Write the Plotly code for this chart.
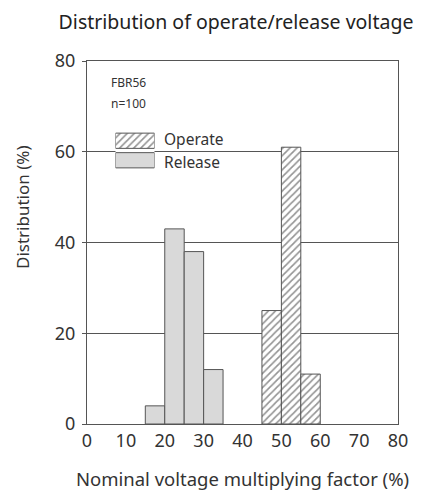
import plotly.graph_objects as go

# ---- data ----
release_bins = [15, 20, 25, 30]          # left edge of each 5% bin
release_pct = [4, 43, 38, 12]
operate_bins = [45, 50, 55]
operate_pct = [25, 61, 11]
bin_width = 5
x_ticks = [0, 10, 20, 30, 40, 50, 60, 70, 80]
y_ticks = [0, 20, 40, 60, 80]
legend_names = ["Operate", "Release"]

FONT = "Noto Sans"
LINE = "#555555"
TXT = "#333333"
REL_FILL = "#d9d9d9"
HATCH = dict(shape="/", fgcolor="#2a2a2a", bgcolor="white", size=5, solidity=0.33)

W, H = 422, 491
L, R, T, B = 87, 24, 61, 67
PW, PH = W - L - R, H - T - B

def px(xp):
    return (xp - L) / PW

def py(yp):
    return 1 - (yp - T) / PH

fig = go.Figure()

fig.add_trace(go.Bar(
    x=release_bins, y=release_pct, width=bin_width, offset=0,
    marker=dict(color=REL_FILL, line=dict(color=LINE, width=1)),
    name="Release", showlegend=False, xaxis="x", yaxis="y"))
fig.add_trace(go.Bar(
    x=operate_bins, y=operate_pct, width=bin_width, offset=0,
    marker=dict(color="white", line=dict(color=LINE, width=1), pattern=HATCH),
    name="Operate", showlegend=False, xaxis="x", yaxis="y"))

# legend swatches drawn as an inset (one bar per series name)
fig.add_trace(go.Bar(
    y=[legend_names[0]], x=[1], orientation="h", width=0.78,
    marker=dict(color="white", line=dict(color=LINE, width=1), pattern=HATCH),
    showlegend=False, xaxis="x2", yaxis="y2", hoverinfo="skip"))
fig.add_trace(go.Bar(
    y=[legend_names[1]], x=[1], orientation="h", width=0.78,
    marker=dict(color=REL_FILL, line=dict(color=LINE, width=1)),
    showlegend=False, xaxis="x2", yaxis="y2", hoverinfo="skip"))

fig.update_layout(
    width=W, height=H,
    margin=dict(l=L, r=R, t=T, b=B),
    paper_bgcolor="white", plot_bgcolor="white",
    barmode="overlay",
    font=dict(family=FONT, color=TXT),
    title=dict(text="Distribution of operate/release voltage",
               x=236 / W, xref="container", xanchor="center",
               y=1 - 22 / H, yref="container", yanchor="middle",
               font=dict(size=19.5, color="#222222")),
    xaxis=dict(range=[0, 80], tickvals=x_ticks, showgrid=False,
               showline=True, linecolor=LINE, linewidth=1, mirror=True,
               ticks="", tickfont=dict(size=18), zeroline=False,
               automargin=False,
               title=dict(text="Nominal voltage multiplying factor (%)",
                          font=dict(size=18.5), standoff=24)),
    yaxis=dict(range=[0, 80], tickvals=y_ticks, showgrid=True,
               gridcolor=LINE, gridwidth=1,
               showline=True, linecolor=LINE, linewidth=1, mirror=True,
               ticks="outside", ticklen=4, tickcolor=LINE,
               ticklabelstandoff=3, automargin=False,
               tickfont=dict(size=18), zeroline=False),
    xaxis2=dict(domain=[px(115.5), px(154.5)], range=[0, 1], anchor="y2",
                visible=False, fixedrange=True),
    yaxis2=dict(domain=[py(170), py(131)], anchor="x2",
                categoryorder="array", categoryarray=legend_names[::-1],
                visible=False, fixedrange=True),
    shapes=[dict(type="rect", xref="paper", yref="paper",
                 x0=px(158), x1=px(253), y0=py(156), y1=py(147),
                 fillcolor="white", line=dict(width=0), layer="between")],
    annotations=[
        dict(text="Distribution (%)", textangle=-90, xref="paper", yref="paper",
             x=px(22), y=py(207), xanchor="center", yanchor="middle",
             showarrow=False, font=dict(size=17)),
        dict(text="FBR56", xref="paper", yref="paper", x=px(109), y=py(83),
             xanchor="left", yanchor="middle", showarrow=False,
             font=dict(size=12)),
        dict(text="n=100", xref="paper", yref="paper", x=px(109), y=py(103),
             xanchor="left", yanchor="middle", showarrow=False,
             font=dict(size=12)),
        dict(text=legend_names[0], xref="paper", yref="paper", x=px(162), y=py(139),
             xanchor="left", yanchor="middle", showarrow=False,
             font=dict(size=15.5)),
        dict(text=legend_names[1], xref="paper", yref="paper", x=px(162), y=py(162),
             xanchor="left", yanchor="middle", showarrow=False,
             font=dict(size=15.5)),
    ],
)

fig.write_html("out.html", config={"displayModeBar": False},
               post_script="document.body.style.margin='0px';document.body.style.padding='0px';")
